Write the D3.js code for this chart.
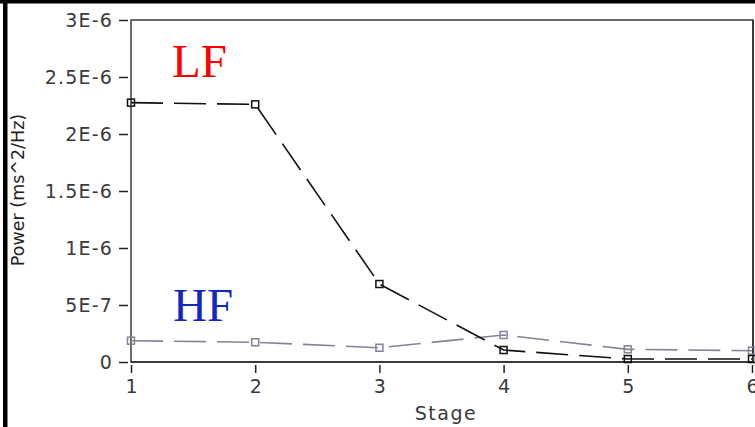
<!DOCTYPE html>
<html><head><meta charset="utf-8">
<script src="https://cdn.jsdelivr.net/npm/d3@7"></script>
<style>html,body{margin:0;padding:0;background:#fff;}svg{display:block;}</style>
</head><body>
<svg id="c" width="755" height="427"></svg>
<script>
const stages = [1, 2, 3, 4, 5, 6];
const lfValues = [2.275e-6, 2.26e-6, 0.684e-6, 0.105e-6, 0.026e-6, 0.026e-6];
const hfValues = [0.187e-6, 0.173e-6, 0.125e-6, 0.237e-6, 0.111e-6, 0.099e-6];
const yTickValues = [0, 5e-7, 1e-6, 1.5e-6, 2e-6, 2.5e-6, 3e-6];
const yTickLabels = ["0", "5E-7", "1E-6", "1.5E-6", "2E-6", "2.5E-6", "3E-6"];
const xTickLabels = ["1", "2", "3", "4", "5", "6"];

const svg = d3.select("#c");
const L = 131, R = 752, T = 20, B = 362;
const x = d3.scaleLinear().domain([1, 6]).range([L, R]);
const y = d3.scaleLinear().domain([0, 3e-6]).range([B, T]);

// black frame bits
svg.append("rect").attr("x", 0).attr("y", 0).attr("width", 755).attr("height", 3.5).attr("fill", "#000");
svg.append("rect").attr("x", 3).attr("y", 0).attr("width", 4.5).attr("height", 427).attr("fill", "#000");

// plot border
svg.append("rect").attr("x", L).attr("y", T).attr("width", R - L + 1).attr("height", B - T)
  .attr("fill", "#fff").attr("stroke", "#3a3a3a").attr("stroke-width", 1.5);
svg.append("line").attr("x1", L).attr("x2", R + 1).attr("y1", B).attr("y2", B).attr("stroke", "#3a3a3a").attr("stroke-width", 2);
svg.append("line").attr("x1", R + 1).attr("x2", R + 1).attr("y1", T).attr("y2", B).attr("stroke", "#3a3a3a").attr("stroke-width", 2);

// y axis
const yAxis = d3.axisLeft(y).tickValues(yTickValues)
  .tickFormat((d, i) => yTickLabels[i]).tickSize(9).tickPadding(6);
const ya = svg.append("g").attr("transform", `translate(${L - 3},0)`).call(yAxis);
ya.select(".domain").remove();
ya.selectAll(".tick line").attr("stroke", "#222").attr("stroke-width", 1.5);
ya.selectAll(".tick text").attr("font-family", "DejaVu Sans").attr("font-size", 19)
  .attr("letter-spacing", 1.2).attr("fill", "#3a3a3a");

// x axis
const xAxis = d3.axisBottom(x).tickValues(stages)
  .tickFormat((d, i) => xTickLabels[i]).tickSize(8).tickPadding(7);
const xa = svg.append("g").attr("transform", `translate(0,${B + 3})`).call(xAxis);
xa.select(".domain").remove();
xa.selectAll(".tick line").attr("stroke", "#222").attr("stroke-width", 1.5);
xa.selectAll(".tick text").attr("font-family", "DejaVu Sans").attr("font-size", 19).attr("fill", "#3a3a3a");

// axis titles
svg.append("text").attr("transform", "translate(24,190) rotate(-90)")
  .attr("text-anchor", "middle").attr("font-family", "DejaVu Sans").attr("font-size", 17.5)
  .attr("fill", "#222").text("Power (ms^2/Hz)");
svg.append("text").attr("x", 446).attr("y", 420).attr("text-anchor", "middle")
  .attr("font-family", "DejaVu Sans").attr("font-size", 19).attr("letter-spacing", 1.5)
  .attr("fill", "#3a3a3a").text("Stage");

// series
const line = d3.line().x((d, i) => x(stages[i])).y(d => y(d));
function series(vals, color) {
  svg.append("path").datum(vals).attr("d", line).attr("fill", "none")
    .attr("stroke", color).attr("stroke-width", 1.6).attr("stroke-dasharray", "32,11");
  svg.selectAll(null).data(vals).enter().append("rect")
    .attr("x", (d, i) => x(stages[i]) - 3.5).attr("y", d => y(d) - 3.5)
    .attr("width", 7).attr("height", 7).attr("fill", "none")
    .attr("stroke", color).attr("stroke-width", 1.5);
}
series(hfValues, "#83839a");
series(lfValues, "#111");

// labels
svg.append("text").attr("x", 172).attr("y", 77).attr("font-family", "Liberation Serif")
  .attr("font-size", 47).attr("fill", "#ff0000").text("LF");
svg.append("text").attr("x", 173).attr("y", 321).attr("font-family", "Liberation Serif")
  .attr("font-size", 47).attr("fill", "#1028c0").text("HF");
</script>
</body></html>
